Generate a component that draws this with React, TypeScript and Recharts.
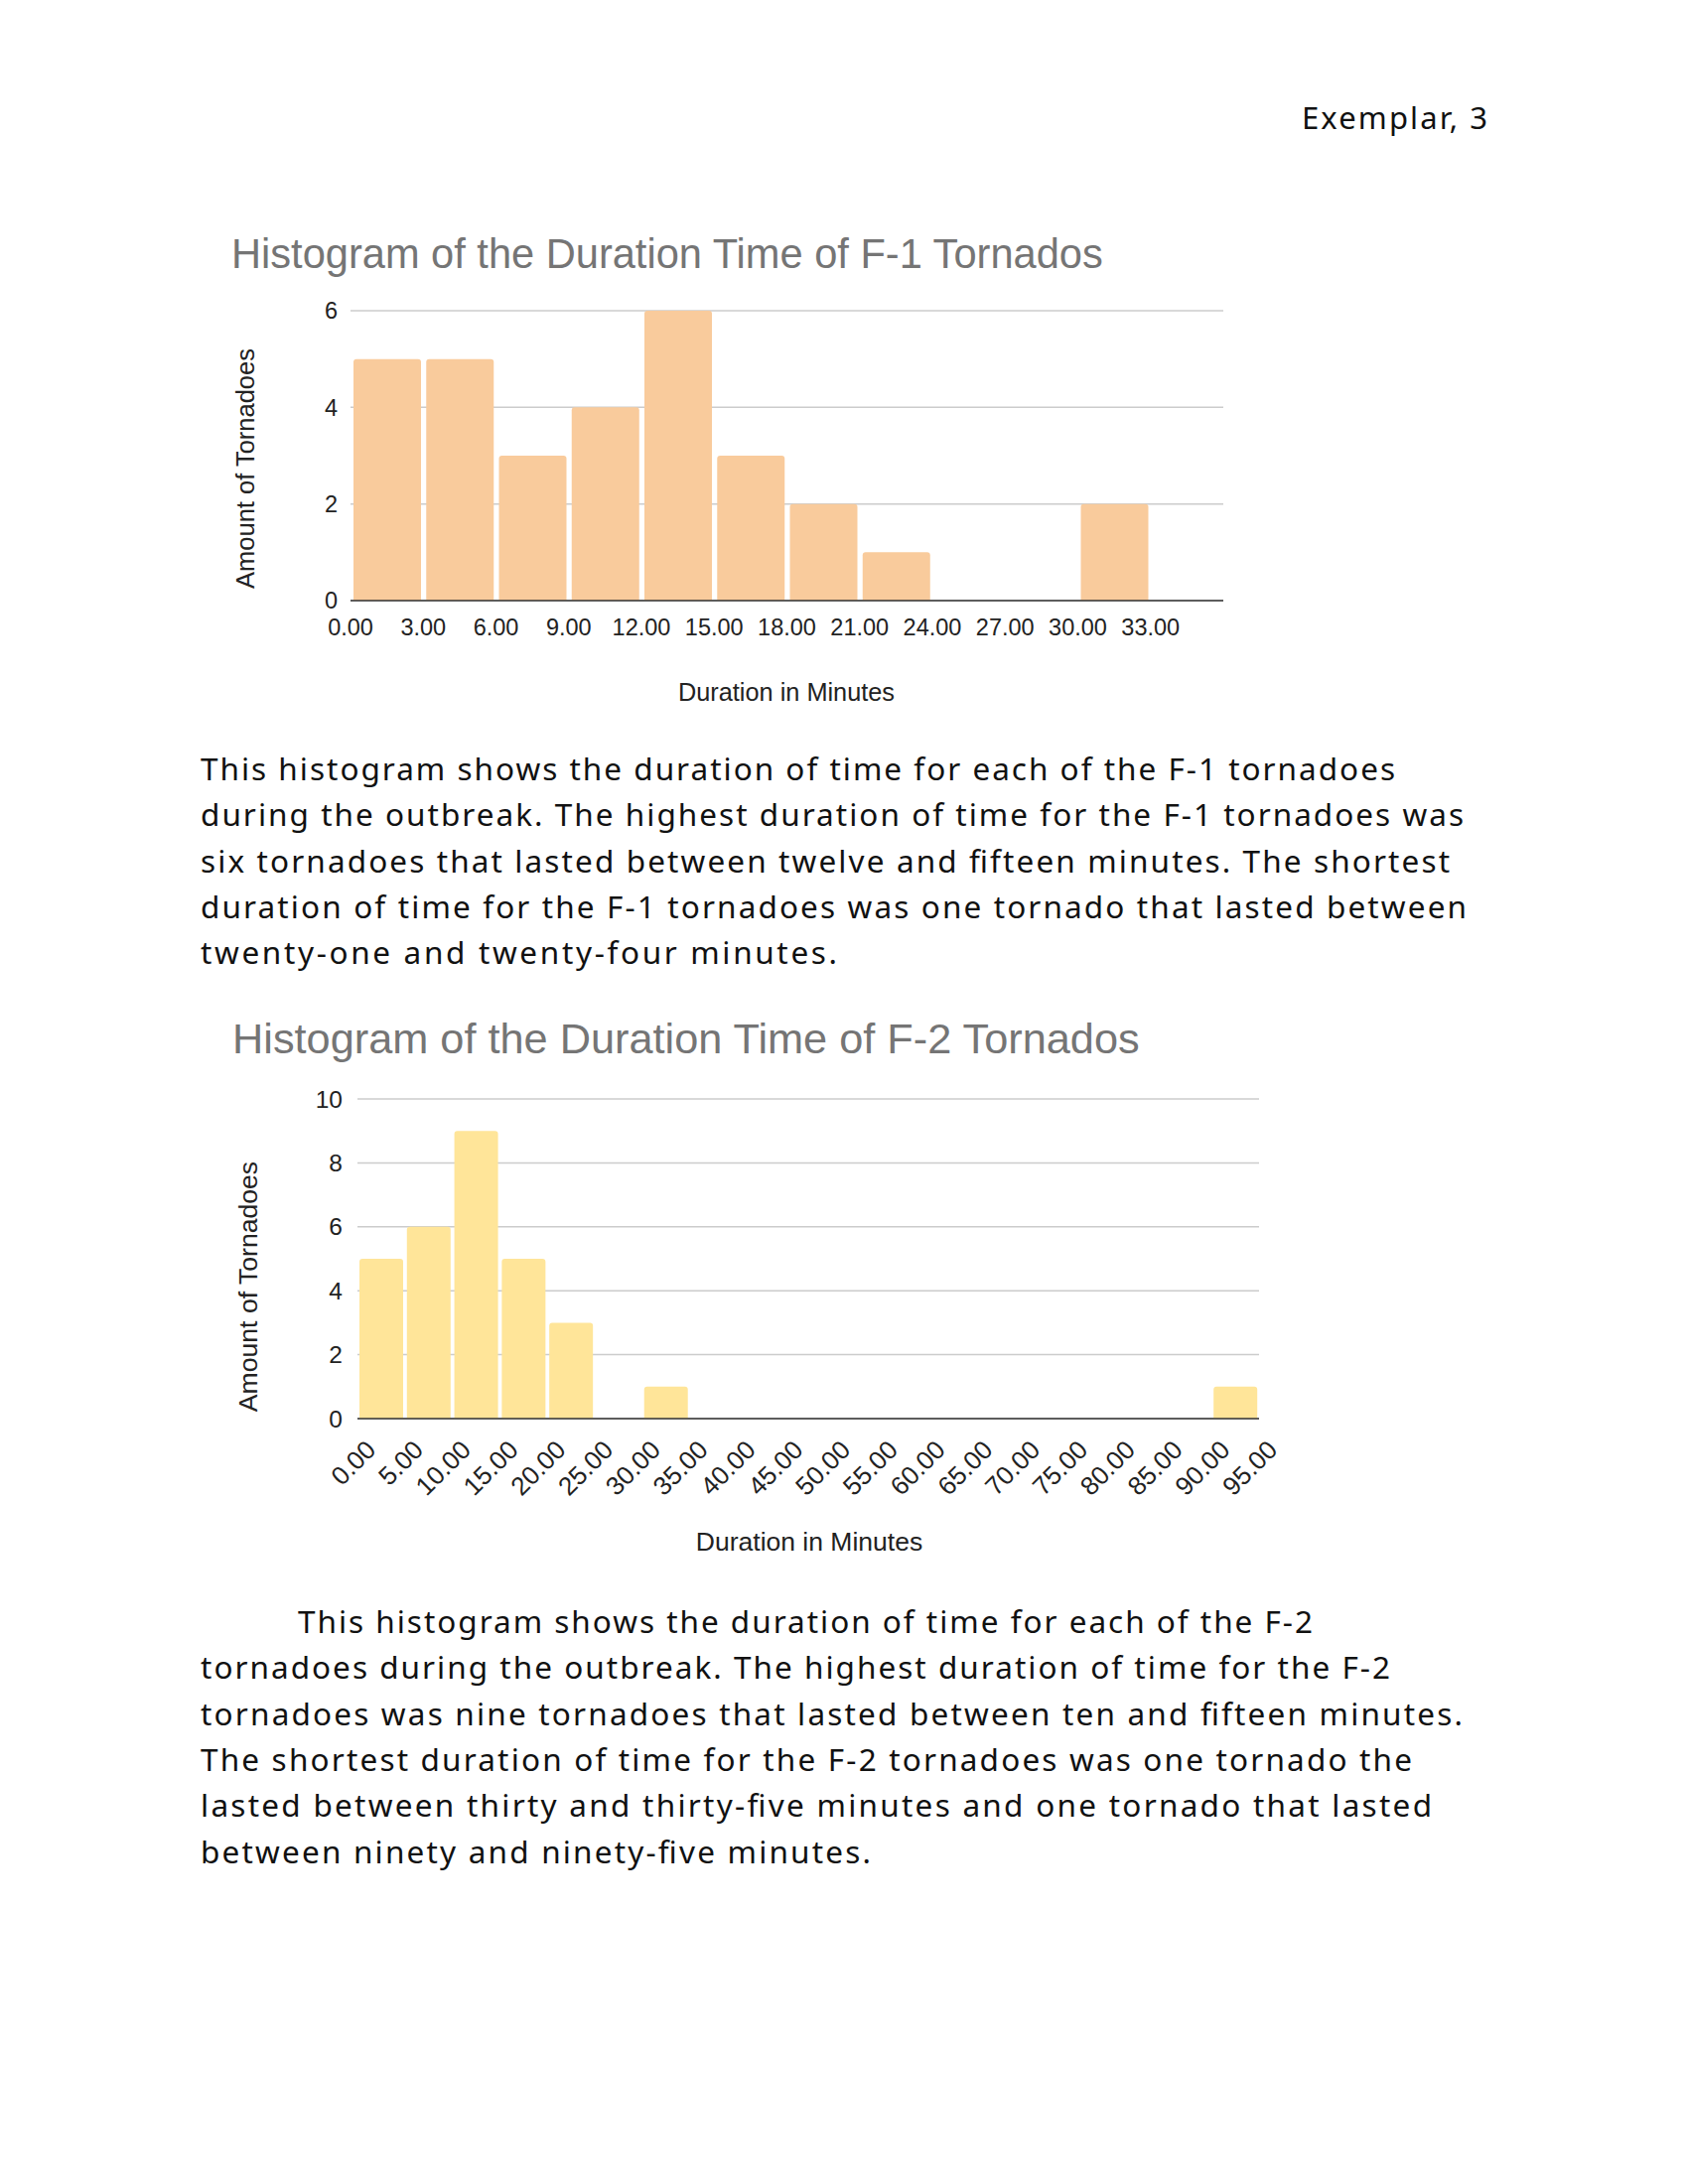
import { Bar, BarChart, CartesianGrid, XAxis, YAxis } from "recharts"

// F-1 histogram: bins of 3 minutes
const f1BinStarts = [0, 3, 6, 9, 12, 15, 18, 21, 24, 27, 30]
const f1Counts = [5, 5, 3, 4, 6, 3, 2, 1, 0, 0, 2]
const f1XTicks = [0, 3, 6, 9, 12, 15, 18, 21, 24, 27, 30, 33]
const f1YTicks = [0, 2, 4, 6]

// F-2 histogram: bins of 5 minutes
const f2BinStarts = [0, 5, 10, 15, 20, 25, 30, 35, 40, 45, 50, 55, 60, 65, 70, 75, 80, 85, 90]
const f2Counts = [5, 6, 9, 5, 3, 0, 1, 0, 0, 0, 0, 0, 0, 0, 0, 0, 0, 0, 1]
const f2XTicks = [0, 5, 10, 15, 20, 25, 30, 35, 40, 45, 50, 55, 60, 65, 70, 75, 80, 85, 90, 95]
const f2YTicks = [0, 2, 4, 6, 8, 10]

const f1Title = "Histogram of the Duration Time of F-1 Tornados"
const f2Title = "Histogram of the Duration Time of F-2 Tornados"
const xTitle = "Duration in Minutes"
const yTitle = "Amount of Tornadoes"
const header = "Exemplar, 3"

const paragraph1 = [
  "This histogram shows the duration of time for each of the F-1 tornadoes",
  "during the outbreak. The highest duration of time for the F-1 tornadoes was",
  "six tornadoes that lasted between twelve and fifteen minutes. The shortest",
  "duration of time for the F-1 tornadoes was one tornado that lasted between",
  "twenty-one and twenty-four minutes.",
]
const paragraph1Widths = [1203, 1272, 1258, 1275, 641]

const paragraph2 = [
  "This histogram shows the duration of time for each of the F-2",
  "tornadoes during the outbreak. The highest duration of time for the F-2",
  "tornadoes was nine tornadoes that lasted between ten and fifteen minutes.",
  "The shortest duration of time for the F-2 tornadoes was one tornado the",
  "lasted between thirty and thirty-five minutes and one tornado that lasted",
  "between ninety and ninety-five minutes.",
]
const paragraph2Widths = [1022, 1198, 1271, 1220, 1240, 675]

const chartFont = "Arial, 'Liberation Sans', sans-serif"
const handFont = "'Noto Sans', 'DejaVu Sans', sans-serif"

interface HistogramProps {
  starts: number[]
  counts: number[]
  binWidth: number
  xMax: number
  xTicks: number[]
  yTicks: number[]
  color: string
  barSize: number
  rotated?: boolean
  left: number
  top: number
  width: number
  height: number
  marginTop: number
  marginRight: number
  xAxisHeight: number
  fontSize: number
  xFontSize: number
  yTickMargin: number
}

function Histogram(props: HistogramProps) {
  const data = props.starts.map((s, i) => ({ mid: s + props.binWidth / 2, count: props.counts[i] }))
  const yMax = props.yTicks[props.yTicks.length - 1]

  return (
    <div style={{ position: "absolute", left: props.left, top: props.top }}>
      <BarChart
        width={props.width}
        height={props.height}
        data={data}
        margin={{ top: props.marginTop, right: props.marginRight, left: 0, bottom: 5 }}
        style={{ fontFamily: chartFont }}
      >
        <CartesianGrid vertical={false} stroke="#cccccc" strokeWidth={1.5} />
        <XAxis
          type="number"
          dataKey="mid"
          domain={[0, props.xMax]}
          ticks={props.xTicks}
          interval={0}
          height={props.xAxisHeight}
          tickFormatter={(v: number) => v.toFixed(2)}
          tickLine={false}
          axisLine={{ stroke: "#333333", strokeWidth: 1.5 }}
          angle={props.rotated ? -45 : 0}
          tickMargin={props.rotated ? 14 : 12}
          tick={
            props.rotated
              ? { fontSize: props.xFontSize, fill: "#222222", textAnchor: "end", dx: 7 }
              : { fontSize: props.xFontSize, fill: "#222222" }
          }
        />
        <YAxis
          type="number"
          domain={[0, yMax]}
          ticks={props.yTicks}
          interval={0}
          width={60}
          tickLine={false}
          axisLine={false}
          tickMargin={props.yTickMargin}
          tick={{ fontSize: props.fontSize, fill: "#222222" }}
        />
        <Bar
          dataKey="count"
          fill={props.color}
          barSize={props.barSize}
          radius={[3, 3, 0, 0]}
          isAnimationActive={false}
        />
      </BarChart>
    </div>
  )
}

export default function App() {
  return (
    <div
      style={{
        position: "absolute",
        left: 0,
        top: 0,
        width: 1700,
        height: 2200,
        background: "#ffffff",
        overflow: "hidden",
      }}
    >
      <svg width={1700} height={2200} style={{ position: "absolute", left: 0, top: 0 }}>
        <text x={1311} y={130} fontFamily={handFont} fontSize={31} fill="#111111" textLength={187} lengthAdjust="spacing">
          {header}
        </text>

        <text x={233} y={270} fontFamily={chartFont} fontSize={41.6} fill="#757575">
          {f1Title}
        </text>
        <text
          x={0}
          y={0}
          transform="translate(256 472) rotate(-90)"
          textAnchor="middle"
          fontFamily={chartFont}
          fontSize={25.5}
          fill="#222222"
        >
          {yTitle}
        </text>
        <text x={792} y={706} textAnchor="middle" fontFamily={chartFont} fontSize={25.3} fill="#222222">
          {xTitle}
        </text>

        {paragraph1.map((line, i) => (
          <text
            key={line}
            x={202}
            y={786 + i * 46.3}
            fontFamily={handFont}
            fontSize={31.5}
            fill="#111111"
            textLength={paragraph1Widths[i]}
            lengthAdjust="spacing"
          >
            {line}
          </text>
        ))}

        <text x={234} y={1061} fontFamily={chartFont} fontSize={43.3} fill="#757575">
          {f2Title}
        </text>
        <text
          x={0}
          y={0}
          transform="translate(259 1296) rotate(-90)"
          textAnchor="middle"
          fontFamily={chartFont}
          fontSize={26.6}
          fill="#222222"
        >
          {yTitle}
        </text>
        <text x={815} y={1562} textAnchor="middle" fontFamily={chartFont} fontSize={26.5} fill="#222222">
          {xTitle}
        </text>

        {paragraph2.map((line, i) => (
          <text
            key={line}
            x={i === 0 ? 300 : 202}
            y={1645 + i * 46.3}
            fontFamily={handFont}
            fontSize={31.5}
            fill="#111111"
            textLength={paragraph2Widths[i]}
            lengthAdjust="spacing"
          >
            {line}
          </text>
        ))}
      </svg>

      <Histogram
        starts={f1BinStarts}
        counts={f1Counts}
        binWidth={3}
        xMax={36}
        xTicks={f1XTicks}
        yTicks={f1YTicks}
        color="#F9CB9C"
        barSize={68}
        left={293}
        top={300}
        width={949}
        height={370}
        marginTop={13}
        marginRight={10}
        xAxisHeight={60}
        fontSize={23.5}
        xFontSize={23.5}
        yTickMargin={7}
      />

      <Histogram
        starts={f2BinStarts}
        counts={f2Counts}
        binWidth={5}
        xMax={95}
        xTicks={f2XTicks}
        yTicks={f2YTicks}
        color="#FFE599"
        barSize={44}
        rotated
        left={300}
        top={1090}
        width={1008}
        height={439}
        marginTop={17}
        marginRight={40}
        xAxisHeight={95}
        fontSize={24.5}
        xFontSize={26}
        yTickMargin={9}
      />
    </div>
  )
}
